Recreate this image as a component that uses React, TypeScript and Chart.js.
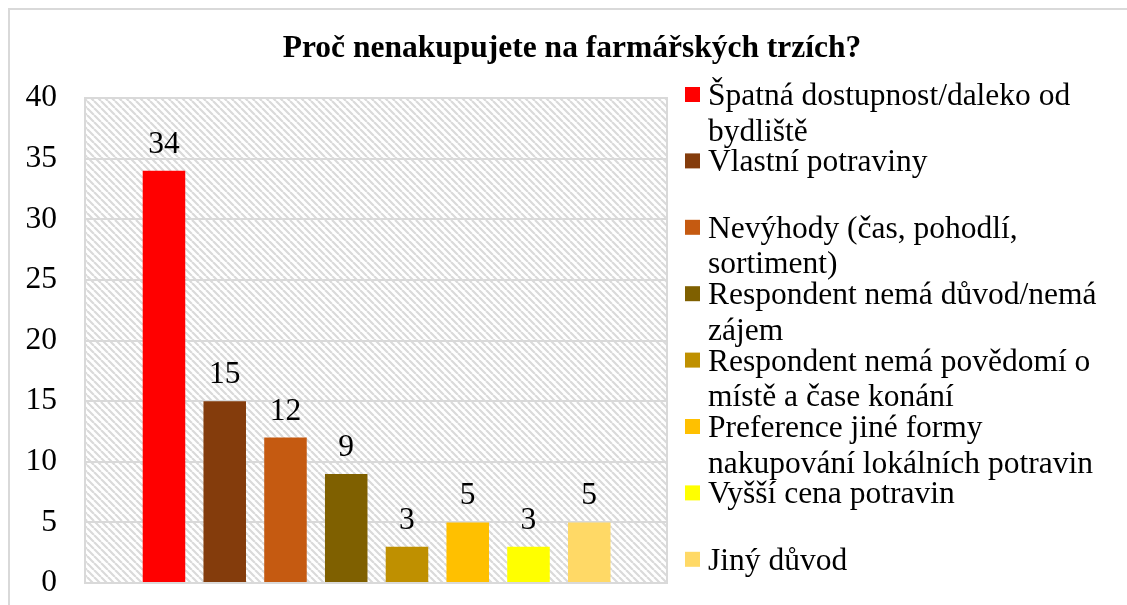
import React, { useEffect, useRef } from "react";
import { Chart, registerables } from "chart.js";

Chart.register(...registerables);

const TITLE = "Proč nenakupujete na farmářských trzích?";

const categories = [
  "Špatná dostupnost/daleko od bydliště",
  "Vlastní potraviny",
  "Nevýhody (čas, pohodlí, sortiment)",
  "Respondent nemá důvod/nemá zájem",
  "Respondent nemá povědomí o místě a čase konání",
  "Preference jiné formy nakupování lokálních potravin",
  "Vyšší cena potravin",
  "Jiný důvod",
];

const counts = [34, 15, 12, 9, 3, 5, 3, 5];

const barColors = [
  "#FF0000",
  "#843C0C",
  "#C55A11",
  "#7F6000",
  "#BF9000",
  "#FFC000",
  "#FFFF00",
  "#FFD966",
];

const yMin = 0;
const yMax = 40;
const yStep = 5;

const FONT_FAMILY = "'Liberation Serif', 'Times New Roman', serif";
const FONT_SIZE = 31.5;
const GRID_COLOR = "#d9d9d9";

function makeHatch(ctx: CanvasRenderingContext2D): CanvasPattern | string {
  const s = 7;
  const tile = document.createElement("canvas");
  tile.width = s;
  tile.height = s;
  const t = tile.getContext("2d");
  if (!t) return "#ffffff";
  t.fillStyle = "#ffffff";
  t.fillRect(0, 0, s, s);
  t.strokeStyle = "#dadada";
  t.lineWidth = 2.2;
  t.beginPath();
  for (const o of [-s, 0, s]) {
    t.moveTo(o, 0);
    t.lineTo(o + s, s);
  }
  t.stroke();
  const p = ctx.createPattern(tile, "repeat");
  return p || "#ffffff";
}

const plotBackground = {
  id: "plotBackground",
  beforeDraw(chart: any) {
    const { ctx, chartArea } = chart;
    if (!chartArea) return;
    ctx.save();
    ctx.fillStyle = makeHatch(ctx);
    ctx.fillRect(
      chartArea.left,
      chartArea.top,
      chartArea.right - chartArea.left,
      chartArea.bottom - chartArea.top
    );
    ctx.restore();
  },
  beforeDatasetsDraw(chart: any) {
    const { ctx, chartArea } = chart;
    ctx.save();
    ctx.strokeStyle = GRID_COLOR;
    ctx.lineWidth = 2;
    ctx.strokeRect(
      chartArea.left,
      chartArea.top,
      chartArea.right - chartArea.left,
      chartArea.bottom - chartArea.top
    );
    ctx.restore();
  },
};

const chartTitle = {
  id: "chartTitle",
  afterDraw(chart: any) {
    const { ctx } = chart;
    ctx.save();
    ctx.font = `bold ${FONT_SIZE}px ${FONT_FAMILY}`;
    ctx.fillStyle = "#000000";
    ctx.textAlign = "center";
    ctx.textBaseline = "alphabetic";
    ctx.fillText(TITLE, chart.width / 2 + 3.5, 47);
    ctx.restore();
  },
};

const valueLabels = {
  id: "valueLabels",
  afterDatasetsDraw(chart: any) {
    const { ctx } = chart;
    const meta = chart.getDatasetMeta(0);
    ctx.save();
    ctx.font = `${FONT_SIZE}px ${FONT_FAMILY}`;
    ctx.fillStyle = "#000000";
    ctx.textAlign = "center";
    ctx.textBaseline = "alphabetic";
    meta.data.forEach((bar: any, i: number) => {
      ctx.fillText(String(counts[i]), bar.x, bar.y - 18);
    });
    ctx.restore();
  },
};

function wrapText(ctx: CanvasRenderingContext2D, text: string, maxWidth: number): string[] {
  const words = text.split(" ");
  const lines: string[] = [];
  let cur = "";
  for (const w of words) {
    const test = cur ? cur + " " + w : w;
    if (cur && ctx.measureText(test).width > maxWidth) {
      lines.push(cur);
      cur = w;
    } else {
      cur = test;
    }
  }
  if (cur) lines.push(cur);
  return lines;
}

const sideLegend = {
  id: "sideLegend",
  afterDraw(chart: any) {
    const { ctx, chartArea } = chart;
    const markerX = chartArea.right + 18;
    const markerSize = 15;
    const textX = markerX + 23;
    const slot = 66.4;
    const lineGap = 35.5;
    const firstBaseline = chartArea.top + 7;
    ctx.save();
    ctx.font = `${FONT_SIZE}px ${FONT_FAMILY}`;
    ctx.textAlign = "left";
    ctx.textBaseline = "alphabetic";
    categories.forEach((label, i) => {
      const base = firstBaseline + slot * i;
      ctx.fillStyle = barColors[i];
      ctx.fillRect(markerX, base - 18, markerSize, markerSize);
      ctx.fillStyle = "#000000";
      const lines = wrapText(ctx, label, 402);
      lines.forEach((ln, j) => {
        ctx.fillText(ln, textX, base + j * lineGap);
      });
    });
    ctx.restore();
  },
};

export default function App() {
  const canvasRef = useRef<HTMLCanvasElement | null>(null);

  useEffect(() => {
    const canvas = canvasRef.current;
    if (!canvas) return;
    const chart = new Chart(canvas, {
      type: "bar",
      data: {
        datasets: [
          {
            label: TITLE,
            data: counts.map((v, i) => ({ x: i, y: v })),
            backgroundColor: barColors,
            borderWidth: 0,
            barPercentage: 0.7,
            categoryPercentage: 1,
          },
        ],
      },
      options: {
        responsive: false,
        animation: false,
        devicePixelRatio: 1,
        layout: { padding: { left: 0, right: 460, top: 88, bottom: 22 } },
        plugins: {
          legend: { display: false },
          tooltip: { enabled: false },
          title: { display: false },
        },
        scales: {
          x: {
            type: "linear",
            display: false,
            offset: false,
            min: -1.3,
            max: 8.28,
            grid: { display: false, offset: false },
          },
          y: {
            min: yMin,
            max: yMax,
            afterFit(scale: any) {
              scale.width = 75;
            },
            ticks: {
              stepSize: yStep,
              padding: 0,
              color: "#000000",
              font: { family: FONT_FAMILY, size: FONT_SIZE },
            },
            border: { display: false },
            grid: {
              color: GRID_COLOR,
              lineWidth: 2,
              drawTicks: true,
              tickLength: 28,
              tickColor: "rgba(0,0,0,0)",
            },
          },
        },
      },
      plugins: [plotBackground, valueLabels, sideLegend, chartTitle],
    } as any);
    return () => chart.destroy();
  }, []);

  return (
    <div
      style={{
        position: "fixed",
        left: 8,
        top: 8,
        width: 1117,
        height: 595,
        borderLeft: "2px solid #d9d9d9",
        borderTop: "2px solid #d9d9d9",
        background: "#ffffff",
      }}
    >
      <canvas ref={canvasRef} width={1117} height={595} style={{ display: "block" }} />
    </div>
  );
}
